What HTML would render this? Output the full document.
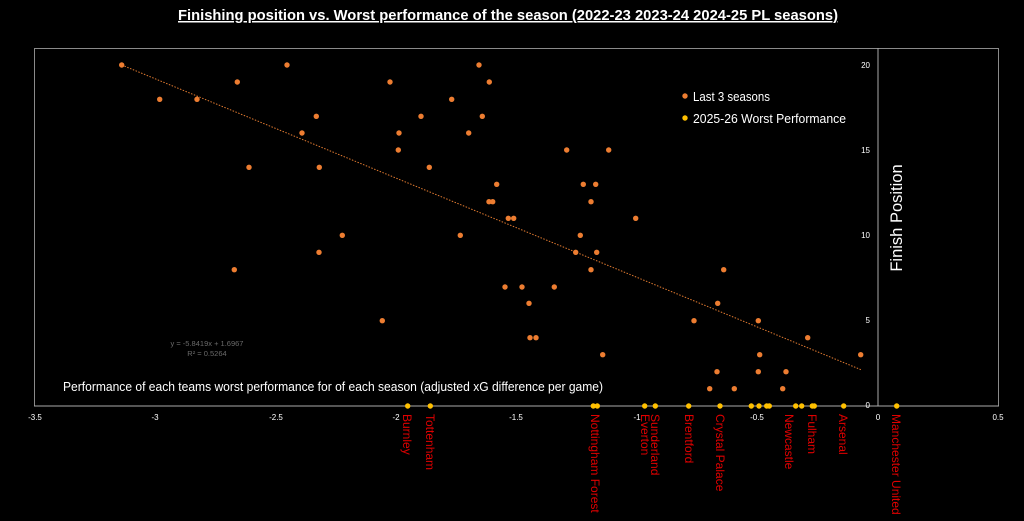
<!DOCTYPE html>
<html><head><meta charset="utf-8"><style>
html,body{margin:0;padding:0;background:#000;}
svg{display:block;font-family:"Liberation Sans",sans-serif;}
</style></head><body>
<svg width="1024" height="521" viewBox="0 0 1024 521" xmlns="http://www.w3.org/2000/svg">
<rect width="1024" height="521" fill="#000"/>
<text x="178" y="20" fill="#fff" font-size="15" font-weight="bold" text-decoration="underline" textLength="660" lengthAdjust="spacingAndGlyphs">Finishing position vs. Worst performance of the season (2022-23 2023-24 2024-25 PL seasons)</text>
<rect x="34.5" y="48.5" width="964" height="357.5" fill="none" stroke="#8a8a8a" stroke-width="1"/>
<line x1="878" y1="48" x2="878" y2="406" stroke="#aaa" stroke-width="1"/>
<line x1="34" y1="406" x2="999" y2="406" stroke="#aaa" stroke-width="1"/>
<g fill="#fff" font-size="8" text-anchor="middle">
<text x="35" y="420">-3.5</text><text x="155" y="420">-3</text><text x="276" y="420">-2.5</text><text x="396" y="420">-2</text><text x="516" y="420">-1.5</text><text x="637" y="420">-1</text><text x="757" y="420">-0.5</text><text x="878" y="420">0</text><text x="998" y="420">0.5</text>
</g>
<g fill="#fff" font-size="8" text-anchor="end">
<text x="870" y="68">20</text><text x="870" y="153">15</text><text x="870" y="238">10</text><text x="870" y="323">5</text><text x="870" y="408">0</text>
</g>
<line x1="121.7" y1="65" x2="861.7" y2="370" stroke="#e07a30" stroke-width="1" stroke-dasharray="1.5,1.5"/>
<g fill="#ed7d31">
<circle cx="121.7" cy="65" r="2.7"/><circle cx="159.7" cy="99.3" r="2.7"/><circle cx="197" cy="99.3" r="2.7"/><circle cx="237.3" cy="82" r="2.7"/><circle cx="287" cy="65" r="2.7"/><circle cx="316.3" cy="116.3" r="2.7"/><circle cx="302" cy="133" r="2.7"/><circle cx="249" cy="167.3" r="2.7"/><circle cx="319.3" cy="167.3" r="2.7"/><circle cx="390" cy="82" r="2.7"/><circle cx="421" cy="116.3" r="2.7"/><circle cx="399" cy="133" r="2.7"/><circle cx="398.3" cy="150" r="2.7"/><circle cx="429.3" cy="167.3" r="2.7"/><circle cx="451.7" cy="99.3" r="2.7"/><circle cx="479" cy="65" r="2.7"/><circle cx="489.3" cy="82" r="2.7"/><circle cx="482.3" cy="116.3" r="2.7"/><circle cx="468.7" cy="133" r="2.7"/><circle cx="496.7" cy="184.3" r="2.7"/><circle cx="489" cy="201.7" r="2.7"/><circle cx="492.7" cy="201.7" r="2.7"/><circle cx="508.3" cy="218.3" r="2.7"/><circle cx="513.7" cy="218.3" r="2.7"/><circle cx="460.3" cy="235.3" r="2.7"/><circle cx="342.3" cy="235.3" r="2.7"/><circle cx="319" cy="252.3" r="2.7"/><circle cx="234.3" cy="269.7" r="2.7"/><circle cx="505" cy="287" r="2.7"/><circle cx="522" cy="287" r="2.7"/><circle cx="382.3" cy="320.7" r="2.7"/><circle cx="529" cy="303.3" r="2.7"/><circle cx="530" cy="337.7" r="2.7"/><circle cx="536" cy="337.7" r="2.7"/><circle cx="566.7" cy="150" r="2.7"/><circle cx="608.7" cy="150" r="2.7"/><circle cx="583.3" cy="184.3" r="2.7"/><circle cx="595.7" cy="184.3" r="2.7"/><circle cx="591" cy="201.7" r="2.7"/><circle cx="635.7" cy="218.3" r="2.7"/><circle cx="580.3" cy="235.3" r="2.7"/><circle cx="575.7" cy="252.3" r="2.7"/><circle cx="596.7" cy="252.3" r="2.7"/><circle cx="591" cy="269.7" r="2.7"/><circle cx="554.3" cy="287" r="2.7"/><circle cx="602.7" cy="354.7" r="2.7"/><circle cx="723.7" cy="269.7" r="2.7"/><circle cx="717.7" cy="303.3" r="2.7"/><circle cx="694" cy="320.7" r="2.7"/><circle cx="758.3" cy="320.7" r="2.7"/><circle cx="759.7" cy="354.7" r="2.7"/><circle cx="807.7" cy="337.7" r="2.7"/><circle cx="860.7" cy="354.7" r="2.7"/><circle cx="717" cy="371.7" r="2.7"/><circle cx="758.3" cy="371.7" r="2.7"/><circle cx="786" cy="371.7" r="2.7"/><circle cx="709.7" cy="388.7" r="2.7"/><circle cx="734.3" cy="388.7" r="2.7"/><circle cx="782.7" cy="388.7" r="2.7"/>
<circle cx="685" cy="96" r="2.7"/>
</g>
<g fill="#ffc000">
<circle cx="407.7" cy="406" r="2.7"/><circle cx="430.3" cy="406" r="2.7"/><circle cx="593.3" cy="406" r="2.7"/><circle cx="597.3" cy="406" r="2.7"/><circle cx="644.7" cy="406" r="2.7"/><circle cx="655.3" cy="406" r="2.7"/><circle cx="688.7" cy="406" r="2.7"/><circle cx="720" cy="406" r="2.7"/><circle cx="751.3" cy="406" r="2.7"/><circle cx="759" cy="406" r="2.7"/><circle cx="766.7" cy="406" r="2.7"/><circle cx="769.3" cy="406" r="2.7"/><circle cx="795.7" cy="406" r="2.7"/><circle cx="801.7" cy="406" r="2.7"/><circle cx="812.3" cy="406" r="2.7"/><circle cx="814.3" cy="406" r="2.7"/><circle cx="843.7" cy="406" r="2.7"/><circle cx="896.7" cy="406" r="2.7"/>
<circle cx="685" cy="118" r="2.7"/>
</g>
<g fill="#fff" font-size="12.5">
<text x="693" y="101" textLength="77" lengthAdjust="spacingAndGlyphs">Last 3 seasons</text>
<text x="693" y="123" textLength="153" lengthAdjust="spacingAndGlyphs">2025-26 Worst Performance</text>
</g>
<text transform="translate(902,218) rotate(-90)" fill="#fff" font-size="16.5" text-anchor="middle">Finish Position</text>
<text x="63" y="391" fill="#fff" font-size="12.7" textLength="540" lengthAdjust="spacingAndGlyphs">Performance of each teams worst performance for of each season (adjusted xG difference per game)</text>
<g fill="#6a6a6a" font-size="7.5" text-anchor="middle">
<text x="207" y="346">y = -5.8419x + 1.6967</text>
<text x="207" y="356">R² = 0.5264</text>
</g>
<g fill="#e00000" font-size="12">
<text transform="translate(403,414) rotate(90)">Burnley</text>
<text transform="translate(426,414) rotate(90)">Tottenham</text>
<text transform="translate(591,414) rotate(90)">Nottingham Forest</text>
<text transform="translate(641,414) rotate(90)">Everton</text>
<text transform="translate(651,414) rotate(90)">Sunderland</text>
<text transform="translate(685,414) rotate(90)">Brentford</text>
<text transform="translate(716,414) rotate(90)">Crystal Palace</text>
<text transform="translate(785,414) rotate(90)">Newcastle</text>
<text transform="translate(808,414) rotate(90)">Fulham</text>
<text transform="translate(839,414) rotate(90)">Arsenal</text>
<text transform="translate(892,414) rotate(90)">Manchester United</text>
</g>
</svg>
</body></html>
